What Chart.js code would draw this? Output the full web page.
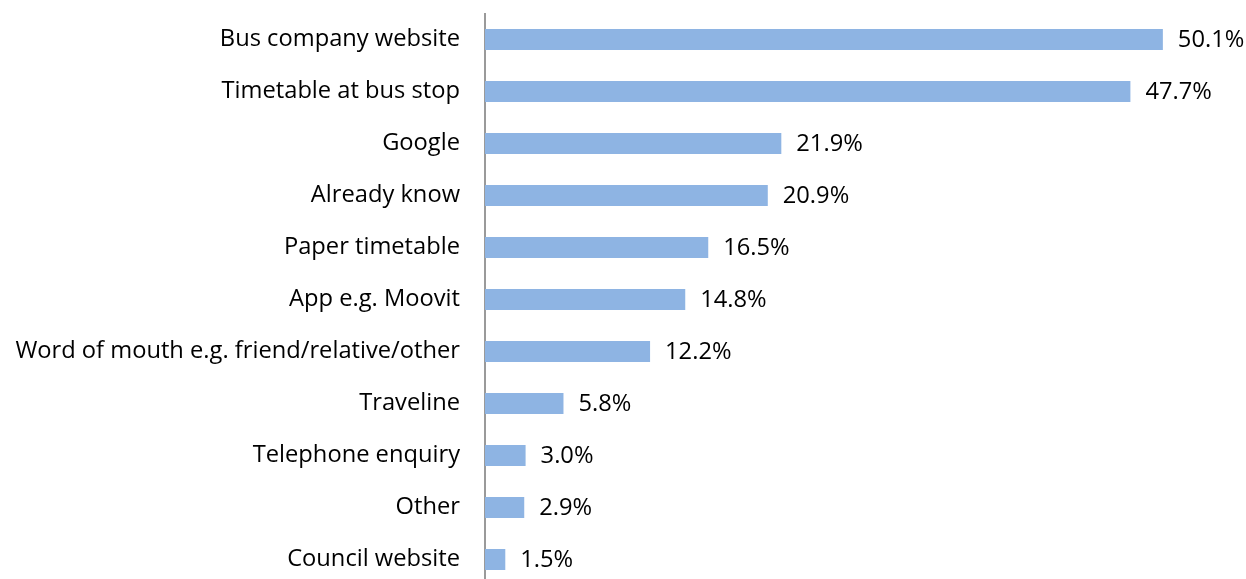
<!DOCTYPE html>
<html>
<head>
<meta charset="utf-8">
<script src="https://cdn.jsdelivr.net/npm/chart.js@4"></script>
<style>
html,body{margin:0;padding:0;background:#fff;overflow:hidden;}
#wrap{width:1246px;height:600px;position:relative;}
</style>
</head>
<body>
<div id="wrap"><canvas id="c" width="1246" height="600"></canvas></div>
<script>
const categories = ["Bus company website","Timetable at bus stop","Google","Already know","Paper timetable","App e.g. Moovit","Word of mouth e.g. friend/relative/other","Traveline","Telephone enquiry","Other","Council website"];
const values = [50.1,47.7,21.9,20.9,16.5,14.8,12.2,5.8,3.0,2.9,1.5];
const valueLabels = ["50.1%","47.7%","21.9%","20.9%","16.5%","14.8%","12.2%","5.8%","3.0%","2.9%","1.5%"];

const FONT = '"Open Sans", "Liberation Sans", sans-serif';
// size the font so the longest label matches the reference width (~444px)
const mctx = document.createElement('canvas').getContext('2d');
mctx.font = '20px ' + FONT;
const w20 = mctx.measureText(categories[6]).width;
const FONT_SIZE = Math.round(20 * 444 / w20 * 10) / 10;

const labelPlugin = {
  id: 'valueLabels',
  afterDatasetsDraw(chart) {
    const ctx = chart.ctx;
    const meta = chart.getDatasetMeta(0);
    ctx.save();
    ctx.font = FONT_SIZE + 'px ' + FONT;
    ctx.fillStyle = '#000';
    ctx.textBaseline = 'middle';
    ctx.textAlign = 'left';
    meta.data.forEach((bar, i) => {
      ctx.fillText(valueLabels[i], bar.x + 15, bar.y + 1);
    });
    ctx.restore();
  }
};

new Chart(document.getElementById('c'), {
  type: 'bar',
  data: {
    labels: categories,
    datasets: [{
      data: values,
      backgroundColor: '#8EB4E3',
      borderWidth: 0,
      categoryPercentage: 1,
      barPercentage: 0.4
    }]
  },
  options: {
    indexAxis: 'y',
    responsive: false,
    animation: false,
    events: [],
    layout: { padding: { top: 13.5, bottom: 14.5, left: 0, right: 3.3 } },
    plugins: { legend: { display: false }, tooltip: { enabled: false } },
    scales: {
      x: { display: false, min: 0, max: 56 },
      y: {
        afterFit(scale) { scale.width = 485; scale.paddingTop = 0; scale.paddingBottom = 0; },
        grid: { display: false, drawTicks: false },
        border: { display: true, color: '#9a9a9a', width: 2 },
        ticks: { color: '#000', padding: 25, font: { family: FONT, size: FONT_SIZE } }
      }
    }
  },
  plugins: [labelPlugin]
});
</script>
</body>
</html>
